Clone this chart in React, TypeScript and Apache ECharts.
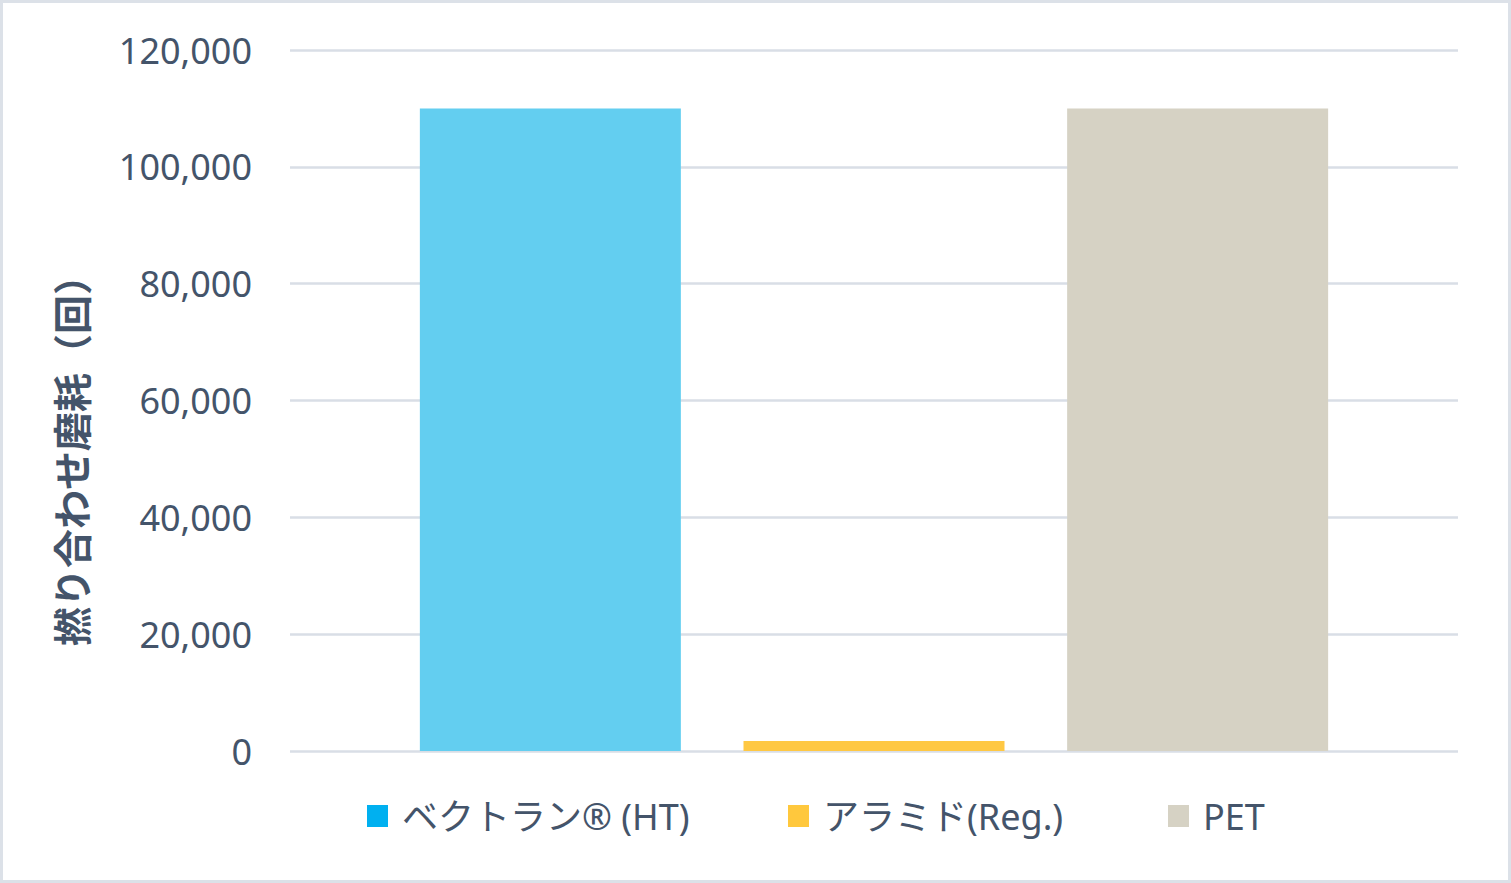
import React, { useEffect, useRef } from 'react';
import * as echarts from 'echarts';

// 撚り合わせ磨耗試験の結果（回）
const seriesNames = ['ベクトラン® (HT)', 'アラミド(Reg.)', 'PET'];
const seriesValues = [110000, 1700, 110000];
const barColors = ['#63CEF0', '#FFC843', '#D6D2C4'];
const legendColors = ['#00B0F0', '#FFC83D', '#D6D2C4'];
const legendLefts = [362, 783, 1163];
const yTicks = [0, 20000, 40000, 60000, 80000, 100000, 120000];
const yTitle = '撚り合わせ磨耗（回）';

const textColor = '#44546A';
const font = "'Noto Sans', 'Noto Sans CJK JP', sans-serif";

const App: React.FC = () => {
  const chartRef = useRef<HTMLDivElement | null>(null);

  useEffect(() => {
    if (!chartRef.current) return;
    const chart = echarts.init(chartRef.current, undefined, { renderer: 'svg' });

    const option: echarts.EChartsOption = {
      animation: false,
      backgroundColor: '#ffffff',
      graphic: [
        {
          type: 'rect',
          shape: { x: 1.5, y: 1.5, width: 1508, height: 880 },
          style: { fill: 'none', stroke: '#DCE1E8', lineWidth: 3 },
          silent: true,
        },
        {
          // 縦軸タイトル
          type: 'text',
          x: 71,
          y: 451,
          rotation: Math.PI / 2,
          style: {
            text: yTitle,
            fill: textColor,
            font: `bold 39px ${font}`,
            textAlign: 'center',
            textVerticalAlign: 'middle',
          },
          silent: true,
        },
      ],
      grid: { left: 290, right: 53, top: 50, bottom: 132, containLabel: false },
      // 凡例は項目ごとに位置を合わせる
      legend: seriesNames.map((name, i) => ({
        left: legendLefts[i],
        top: 793,
        icon: 'rect',
        itemWidth: 21,
        itemHeight: 22,
        selectedMode: false,
        textStyle: { color: textColor, fontSize: 36, fontFamily: font, padding: [0, 0, 0, 9] },
        data: [{ name, itemStyle: { color: legendColors[i] } }],
      })),
      xAxis: {
        type: 'category',
        data: [''],
        axisLine: { show: false },
        axisTick: { show: false },
        axisLabel: { show: false },
      },
      yAxis: {
        type: 'value',
        min: yTicks[0],
        max: yTicks[yTicks.length - 1],
        interval: 20000,
        axisLine: { show: false },
        axisTick: { show: false },
        axisLabel: {
          color: textColor,
          fontSize: 36,
          fontFamily: font,
          margin: 38,
          formatter: (v: number) => v.toLocaleString('en-US'),
        },
        splitLine: { lineStyle: { color: '#D9DEE6', width: 2.5 } },
      },
      series: seriesNames.map((name, i) => ({
        name,
        type: 'bar',
        data: [seriesValues[i]],
        barWidth: 261,
        barGap: '24%',
        itemStyle: { color: barColors[i] },
      })),
    };

    chart.setOption(option);
    return () => {
      chart.dispose();
    };
  }, []);

  return (
    <div
      ref={chartRef}
      style={{ position: 'absolute', left: 0, top: 0, width: '1511px', height: '883px' }}
    />
  );
};

export default App;
